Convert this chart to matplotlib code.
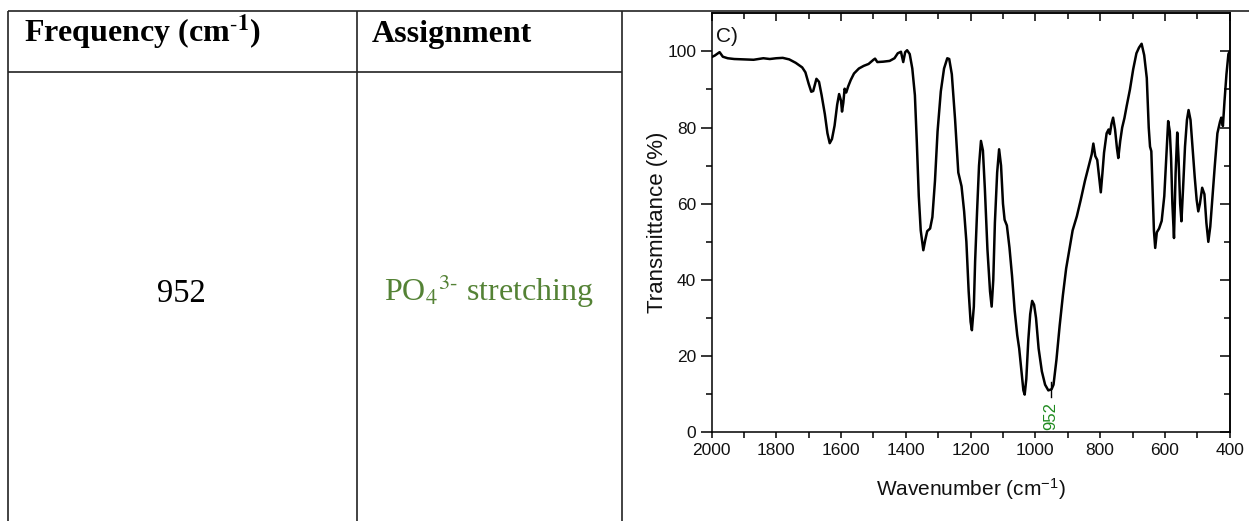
import numpy as np
import matplotlib
matplotlib.use("Agg")
import matplotlib.pyplot as plt
from matplotlib.ticker import MultipleLocator, FixedLocator

plt.rcParams['font.family'] = ['Liberation Sans', 'DejaVu Sans']
plt.rcParams['mathtext.fontset'] = 'custom'
plt.rcParams['mathtext.rm'] = 'Liberation Sans'
plt.rcParams['mathtext.it'] = 'Liberation Sans:italic'
plt.rcParams['mathtext.bf'] = 'Liberation Sans:bold'

# ---------------- data ----------------
table_headers = ["Frequency (cm$^{\\text{-}\\mathbf{1}}$)", "Assignment"]
table_frequency = "952"
table_assignment = "PO$_{4}{}^{3\\text{-}}$ stretching"

wavenumber = [
    2000, 1990, 1975, 1965, 1950, 1930, 1900, 1870, 1840, 1820, 1800, 1780, 1760, 1740, 1720,
    1710, 1700, 1692, 1686, 1676, 1668, 1660, 1650, 1642, 1635, 1628, 1620, 1612, 1606, 1600,
    1597, 1593, 1589, 1584, 1578, 1570, 1560, 1545, 1530, 1515, 1500, 1495, 1488, 1470, 1450,
    1435, 1425, 1415, 1408, 1402, 1396, 1388, 1380, 1372, 1366, 1360, 1354, 1346, 1340, 1334,
    1325, 1318, 1310, 1302, 1292, 1282, 1272, 1266, 1258, 1248, 1238, 1228, 1220, 1213, 1206,
    1200, 1196, 1190, 1186, 1180, 1174, 1168, 1162, 1156, 1148, 1140, 1135, 1130, 1125, 1118,
    1112, 1106, 1100, 1095, 1088, 1080, 1072, 1064, 1056, 1050, 1043, 1037, 1033, 1028, 1022,
    1016, 1010, 1004, 998, 990, 980, 970, 960, 950, 944, 935, 925, 915, 905, 895,
    885, 872, 860, 847, 835, 826, 821, 815, 809, 803, 798, 793, 788, 780, 774,
    770, 765, 760, 754, 748, 744, 738, 732, 725, 718, 708, 698, 688, 680, 672,
    664, 656, 650, 646, 642, 638, 634, 630, 625, 618, 610, 602, 596, 590, 585,
    581, 577, 572, 567, 562, 558, 553, 549, 544, 538, 532, 527, 521, 515, 508,
    502, 497, 492, 485, 478, 472, 466, 460, 454, 446, 438, 430, 426, 421, 416,
    410, 404, 400]
transmittance = [
    98.5, 98.9, 99.8, 98.6, 98.2, 98.0, 97.9, 97.8, 98.2, 98.0, 98.2, 98.3, 97.9, 97.0, 95.8,
    94.5, 91.5, 89.4, 89.6, 92.8, 92.0, 88.5, 83.5, 78.5, 75.9, 77.0, 80.5, 86.0, 88.8, 87.0,
    84.2, 86.5, 90.2, 89.2, 90.8, 92.5, 94.2, 95.5, 96.2, 96.7, 97.8, 98.1, 97.2, 97.3, 97.5,
    98.2, 99.5, 99.9, 97.2, 99.8, 100.3, 99.3, 95.5, 88.5, 76.0, 62.0, 53.0, 47.8, 50.5, 52.8,
    53.5, 56.5, 66.0, 79.0, 89.5, 95.5, 98.2, 98.0, 94.0, 82.2, 68.2, 64.6, 58.0, 50.0, 37.0,
    29.0, 26.8, 33.0, 45.0, 58.0, 70.0, 76.5, 74.0, 64.0, 48.0, 37.0, 33.0, 40.0, 55.0, 68.2,
    74.3, 70.0, 60.0, 55.8, 54.3, 48.5, 41.0, 32.0, 25.5, 22.0, 16.0, 11.0, 9.9, 14.0, 24.0,
    31.0, 34.5, 33.5, 30.0, 22.0, 16.0, 12.5, 11.0, 11.3, 12.5, 19.0, 28.0, 36.0, 43.0, 48.0,
    53.0, 56.7, 61.0, 66.0, 70.0, 73.0, 75.8, 72.5, 71.5, 67.0, 63.0, 68.0, 73.4, 78.5, 79.5,
    78.3, 81.0, 82.6, 79.5, 74.5, 72.0, 76.5, 80.0, 82.5, 85.7, 90.0, 95.3, 99.5, 101.0, 102.0,
    99.0, 93.0, 80.0, 75.0, 73.8, 63.0, 53.0, 48.4, 52.5, 53.5, 55.5, 62.0, 72.0, 81.7, 79.0,
    72.0, 60.0, 51.0, 68.0, 78.7, 72.0, 60.0, 55.4, 64.0, 75.0, 82.0, 84.6, 82.0, 75.0, 67.0,
    61.0, 58.0, 60.0, 64.2, 62.5, 55.0, 50.0, 54.0, 61.0, 70.0, 78.5, 81.5, 82.6, 80.4, 87.0,
    94.0, 99.3, 100.0]
peak_label = 952
panel_label = "C)"
x_ticks = [2000, 1800, 1600, 1400, 1200, 1000, 800, 600, 400]
y_ticks = [0, 20, 40, 60, 80, 100]

# ---------------- figure ----------------
W, H = 1249, 521
fig = plt.figure(figsize=(W / 100, H / 100), dpi=100)
fig.patch.set_facecolor('white')

# table layer in pixel coordinates
bg = fig.add_axes([0, 0, 1, 1])
bg.set_xlim(0, W)
bg.set_ylim(H, 0)
bg.axis('off')
line_kw = dict(color='#222222', lw=1.2, solid_capstyle='butt')
bg.plot([8.5, W], [10.5, 10.5], **line_kw)
bg.plot([8.5, 8.5], [10.5, H], **line_kw)
bg.plot([357, 357], [10.5, H], **line_kw)
bg.plot([622, 622], [10.5, H], **line_kw)
bg.plot([8.5, 622], [72, 72], **line_kw)

serif = 'Liberation Serif'
bg.text(24, 42, table_headers[0], fontfamily=serif, fontweight='bold', fontsize=23,
        ha='left', va='baseline', math_fontfamily='stix')
bg.text(371.5, 42, table_headers[1], fontfamily=serif, fontweight='bold', fontsize=23,
        ha='left', va='baseline')
bg.text(181.5, 302, table_frequency, fontfamily=serif, fontsize=23.5,
        ha='center', va='baseline')
bg.text(489, 301, table_assignment, fontfamily=serif, fontsize=23, color='#548235',
        ha='center', va='baseline', math_fontfamily='stix')

# chart
left, right, top, bottom = 711.5, 1229.7, 13.3, 432.3
ax = fig.add_axes([left / W, 1 - bottom / H, (right - left) / W, (bottom - top) / H])
ax.plot(wavenumber, transmittance, color='black', lw=1.8)
ax.set_xlim(2000, 400)
ax.set_ylim(0, 110)
ax.set_xticks(x_ticks)
ax.set_yticks(y_ticks)
ax.xaxis.set_minor_locator(MultipleLocator(100))
ax.yaxis.set_minor_locator(FixedLocator([10, 30, 50, 70, 90]))
for s in ax.spines.values():
    s.set_linewidth(1.1)
ax.tick_params(axis='y', which='major', direction='out', length=8, width=1.1,
               labelsize=12.5, pad=3, labelcolor='#111111')
ax.tick_params(axis='y', which='minor', direction='out', length=4.5, width=1.1)
ax.tick_params(axis='x', which='major', direction='out', length=4.5, width=1.1,
               labelsize=12.5, pad=3.5, labelcolor='#111111')
ax.tick_params(axis='x', which='minor', direction='out', length=4, width=1.1)

secx = ax.secondary_xaxis('top')
secx.set_xticks(x_ticks)
secx.set_xticklabels([])
secx.xaxis.set_minor_locator(MultipleLocator(100))
secx.tick_params(which='major', direction='in', length=6, width=1.1)
secx.tick_params(which='minor', direction='in', length=4, width=1.1)
secx.spines['top'].set_linewidth(1.1)

secy = ax.secondary_yaxis('right')
secy.set_yticks(y_ticks)
secy.set_yticklabels([])
secy.yaxis.set_minor_locator(FixedLocator([10, 30, 50, 70, 90]))
secy.tick_params(which='major', direction='in', length=7, width=1.1)
secy.tick_params(which='minor', direction='in', length=4, width=1.1)
secy.spines['right'].set_linewidth(1.1)

ax.set_xlabel("Wavenumber (cm$^{-1}$)", fontsize=15, color='#111111')
ax.set_ylabel("Transmittance (%)", fontsize=16, color='#111111')
ax.xaxis.set_label_coords(0.5, -0.105)
ax.yaxis.set_label_coords(-0.083, 0.5)

ax.text(0.009, 0.968, panel_label, transform=ax.transAxes, fontsize=15,
        ha='left', va='top', color='#111111')

# peak marker
wn_arr = np.array(wavenumber)[::-1]
tr_arr = np.array(transmittance)[::-1]
y_peak = np.interp(peak_label, wn_arr, tr_arr)
ax.plot([peak_label, peak_label], [y_peak - 2, y_peak + 2], color='black', lw=1)
ax.text(peak_label, y_peak - 3.2, str(peak_label), rotation=90, ha='center', va='top',
        fontsize=12, color='#1e8a1e')

fig.savefig('out.png', dpi=100, facecolor='white')
